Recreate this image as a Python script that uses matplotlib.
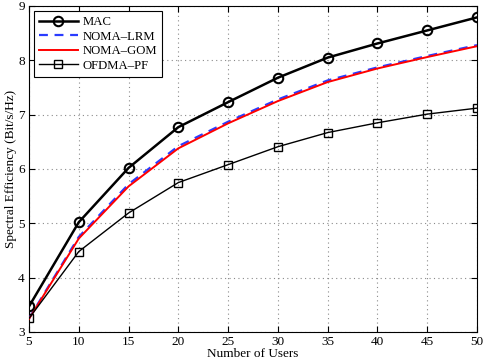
import matplotlib
matplotlib.use("Agg")
import matplotlib.pyplot as plt

users = [5, 10, 15, 20, 25, 30, 35, 40, 45, 50]
mac = [3.47, 5.02, 6.02, 6.77, 7.23, 7.68, 8.05, 8.31, 8.55, 8.79]
noma_lrm = [3.25, 4.75, 5.72, 6.42, 6.87, 7.28, 7.63, 7.87, 8.08, 8.28]
noma_gom = [3.24, 4.72, 5.68, 6.38, 6.84, 7.25, 7.60, 7.85, 8.06, 8.26]
ofdma_pf = [3.25, 4.48, 5.19, 5.75, 6.08, 6.41, 6.67, 6.85, 7.01, 7.12]
xticks = [5, 10, 15, 20, 25, 30, 35, 40, 45, 50]
yticks = [3, 4, 5, 6, 7, 8, 9]

plt.rcParams['font.family'] = ['Liberation Serif', 'DejaVu Serif']
plt.rcParams['font.size'] = 9.5

fig = plt.figure(figsize=(4.83, 3.63), dpi=100)
ax = fig.add_axes([0.060, 0.0854, 0.9276, 0.8981])

ax.plot(users, mac, color='black', lw=1.8, marker='o', ms=6.8, mfc='none', mew=1.5, label='MAC', zorder=4)
ax.plot(users, noma_lrm, color='#2a3cff', lw=1.6, ls=(0, (4, 3)), label='NOMA\u2013LRM', zorder=3)
ax.plot(users, noma_gom, color='red', lw=1.4, label='NOMA\u2013GOM', zorder=3)
ax.plot(users, ofdma_pf, color='black', lw=1.0, marker='s', ms=5.5, mfc='none', mew=1.0, label='OFDMA\u2013PF', zorder=4)

ax.set_xlim(5, 50)
ax.set_ylim(3, 9)
ax.set_xticks(xticks)
ax.set_yticks(yticks)
ax.grid(True, ls=(0, (1, 3)), color='#8a8a8a', lw=0.8)
ax.tick_params(direction='in', top=True, right=True, length=4, pad=3)
for s in ax.spines.values():
    s.set_linewidth(0.8)
ax.set_xlabel('Number of Users', labelpad=0)
ax.set_ylabel('Spectral Efficiency (Bit/s/Hz)', labelpad=1)

leg = ax.legend(loc='upper left', fancybox=False, framealpha=1, edgecolor='black',
                borderaxespad=0.4, handlelength=3.0, handletextpad=0.4,
                labelspacing=0.2, fontsize=9.2, borderpad=0.4)
leg.get_frame().set_linewidth(0.8)

fig.savefig('out.png', dpi=100)
